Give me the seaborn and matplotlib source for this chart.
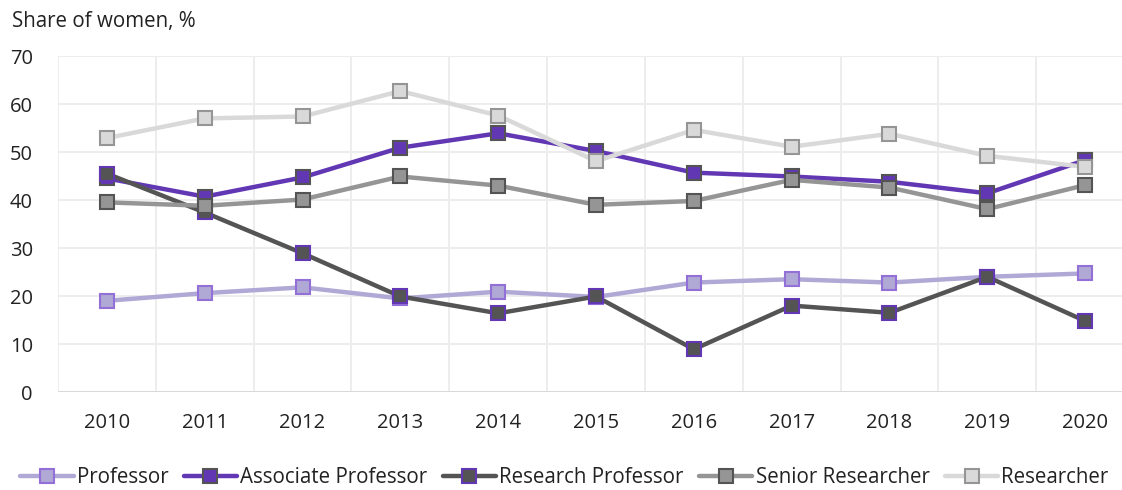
import matplotlib
matplotlib.use("Agg")
import matplotlib.pyplot as plt
import seaborn as sns
import pandas as pd

# data
years = [2010, 2011, 2012, 2013, 2014, 2015, 2016, 2017, 2018, 2019, 2020]
professor = [19.0, 20.6, 21.8, 19.5, 20.9, 19.8, 22.8, 23.5, 22.8, 24.0, 24.7]
associate_professor = [44.5, 40.7, 44.7, 50.9, 53.9, 50.2, 45.7, 44.9, 43.8, 41.4, 48.3]
research_professor = [45.5, 37.4, 28.9, 19.9, 16.4, 19.9, 8.9, 18.0, 16.5, 24.0, 14.8]
senior_researcher = [39.5, 38.8, 40.1, 44.9, 43.0, 39.0, 39.8, 44.2, 42.6, 38.1, 43.1]
researcher = [52.9, 57.0, 57.4, 62.7, 57.6, 48.1, 54.6, 51.1, 53.8, 49.2, 46.9]

series_names = ["Professor", "Associate Professor", "Research Professor",
                "Senior Researcher", "Researcher"]
series_values = [professor, associate_professor, research_professor,
                 senior_researcher, researcher]
line_colors = ["#B0A8D5", "#6237B4", "#545454", "#959595", "#D9D9D9"]
edge_colors = ["#9370D8", "#545454", "#6237B4", "#545454", "#959595"]

df = pd.DataFrame({"year": years})
for name, vals in zip(series_names, series_values):
    df[name] = vals

sns.set_style("white")
plt.rcParams["font.family"] = ["Open Sans", "DejaVu Sans"]

fig = plt.figure(figsize=(11.22, 4.9), dpi=100)
ax = fig.add_axes([58 / 1122, 0.2, 1076 / 1122, 0.6857])

for name, lc, ec in zip(series_names, line_colors, edge_colors):
    sns.lineplot(data=df, x="year", y=name, ax=ax, color=lc, linewidth=3.2,
                 marker="s", markersize=10, markerfacecolor=lc,
                 markeredgecolor=ec, markeredgewidth=1.5, label=name,
                 legend=False)

ax.set_xlim(2009.5, 2020.5)
ax.set_ylim(0, 70)
ax.set_yticks(range(0, 71, 10))
ax.set_xticks(years)
ax.set_xticks([y - 0.5 for y in years] + [2020.5], minor=True)
ax.grid(axis="y", which="major", color="#EDEDED", linewidth=1.4)
ax.grid(axis="x", which="minor", color="#EDEDED", linewidth=1.4)
ax.grid(axis="x", which="major", visible=False)
ax.axhline(0, color="#D9D9D9", linewidth=1.4, zorder=1)
ax.set_axisbelow(True)
for s in ax.spines.values():
    s.set_visible(False)
ax.tick_params(axis="both", which="both", length=0, labelsize=14.5, colors="#222222")
ax.tick_params(axis="x", pad=15)
ax.tick_params(axis="y", pad=18)
ax.set_xlabel("")
ax.set_ylabel("")

fig.text(12 / 1122, 1 - 22 / 490, "Share of women, %", fontsize=14.8,
         color="#222222", va="center", ha="left")

handles, labels = ax.get_legend_handles_labels()
fig.legend(handles, labels, loc="center", bbox_to_anchor=(0.503, 0.025),
           ncol=5, frameon=False, fontsize=14.8, handlelength=2.6,
           handletextpad=0.15, columnspacing=0.75, labelcolor="#222222")

fig.savefig("out.png", dpi=100)
